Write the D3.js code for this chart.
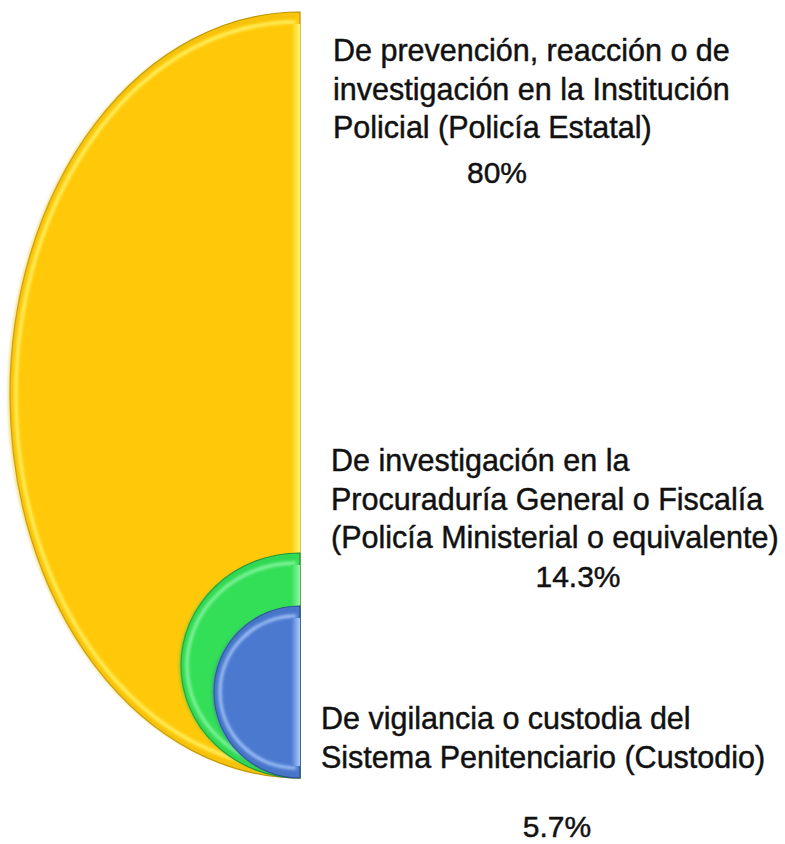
<!DOCTYPE html>
<html>
<head>
<meta charset="utf-8">
<script src="https://cdn.jsdelivr.net/npm/d3@7"></script>
<style>
  body { margin: 0; background: #fff; }
  text { font-family: "Liberation Sans", Arial, sans-serif; fill: #111; stroke: #111; stroke-width: 0.45px; }
</style>
</head>
<body>
<div id="chart"></div>
<script>
// data
const categories = ["Policía Estatal", "Policía Ministerial", "Custodio"];
const values = [80, 14.3, 5.7];
const labelLines = [
    ["De prevención, reacción o de", "investigación en la Institución", "Policial (Policía Estatal)"],
    ["De investigación en la", "Procuraduría General o Fiscalía", "(Policía Ministerial o equivalente)"],
    ["De vigilancia o custodia del", "Sistema Penitenciario (Custodio)"]
];
const pctLabels = ["80%", "14.3%", "5.7%"];

let width = 785, height = 844;
let baseX = 300, baseY = 778; // every half disc sits on this point

// size scales
let ry = d3.scaleLinear().domain([5.7, 14.3, 80]).range([86, 112.5, 383]);
let rx = d3.scaleLinear().domain([5.7, 14.3, 80]).range([86, 119, 290]);

let fill = d3.scaleOrdinal().domain(categories).range(["#ffc909", "#33df56", "#4a79cf"]);
let edge = d3.scaleOrdinal().domain(categories).range(["#b8930a", "#1f8f3a", "#2b4a8f"]);
let light = d3.scaleOrdinal().domain(categories).range(["#fff46a", "#8ff5a5", "#a9c9fb"]);

let svg = d3.select("#chart").append("svg")
    .attr("width", width)
    .attr("height", height);

let defs = svg.append("defs");
defs.append("filter").attr("id", "soft")
    .append("feGaussianBlur").attr("stdDeviation", 1.4);

categories.forEach((c, i) => {
    let g = defs.append("linearGradient").attr("id", "strip" + i)
        .attr("x1", 0).attr("x2", 1).attr("y1", 0).attr("y2", 0);
    g.append("stop").attr("offset", "0%").attr("stop-color", fill(c));
    g.append("stop").attr("offset", "100%").attr("stop-color", light(c));
});

function halfDisc(a, b, inset) {
    let cy = baseY - b;
    let top = cy - b + inset, bot = cy + b - inset;
    return "M" + baseX + "," + top +
        "A" + (a - inset) + "," + (b - inset) + " 0 0 0 " + baseX + "," + bot + "Z";
}
function innerArc(a, b, inset) {
    let cy = baseY - b;
    return "M" + (baseX - 4) + "," + (cy - b + inset) +
        "A" + (a - inset) + "," + (b - inset) + " 0 0 0 " + (baseX - 4) + "," + (cy + b - inset);
}

let discs = svg.selectAll(".disc")
    .data(values.map((v, i) => ({v: v, c: categories[i]})))
    .enter().append("g")
    .attr("class", "disc");

discs.append("path")
    .attr("d", d => halfDisc(rx(d.v), ry(d.v), 0))
    .attr("fill", d => fill(d.c))
    .attr("stroke", d => edge(d.c))
    .attr("stroke-width", 1.2);

// bevel highlight along the curved edge
discs.append("path")
    .attr("d", d => innerArc(rx(d.v), ry(d.v), 10))
    .attr("fill", "none")
    .attr("stroke", d => light(d.c))
    .attr("stroke-width", 3)
    .attr("filter", "url(#soft)");

discs.append("path")
    .attr("d", d => innerArc(rx(d.v), ry(d.v), 4))
    .attr("fill", "none")
    .attr("stroke", d => d3.color(fill(d.c)).darker(0.25))
    .attr("stroke-width", 4)
    .attr("opacity", 0.5)
    .attr("filter", "url(#soft)");

// light strip along the flat edge
discs.append("rect")
    .attr("x", baseX - 9)
    .attr("y", d => baseY - 2 * ry(d.v) + 12)
    .attr("width", 9)
    .attr("height", d => 2 * ry(d.v) - 24)
    .attr("fill", (d, i) => "url(#strip" + i + ")");

// labels
let labelPos = [
    {x: 333, y: 61, px: 497, py: 183},
    {x: 331, y: 471, px: 578, py: 587},
    {x: 321, y: 729, px: 557, py: 837}
];

let labels = svg.selectAll(".label")
    .data(labelLines)
    .enter().append("text")
    .attr("class", "label")
    .attr("font-size", 30.5);

labels.selectAll("tspan")
    .data((d, i) => d.map(t => ({t: t, i: i})))
    .enter().append("tspan")
    .attr("x", d => labelPos[d.i].x)
    .attr("y", (d, j) => labelPos[d.i].y + j * 38.5)
    .text(d => d.t);

svg.selectAll(".pct")
    .data(pctLabels)
    .enter().append("text")
    .attr("class", "pct")
    .attr("font-size", 30)
    .attr("text-anchor", "middle")
    .attr("x", (d, i) => labelPos[i].px)
    .attr("y", (d, i) => labelPos[i].py)
    .text(d => d);
</script>
</body>
</html>
